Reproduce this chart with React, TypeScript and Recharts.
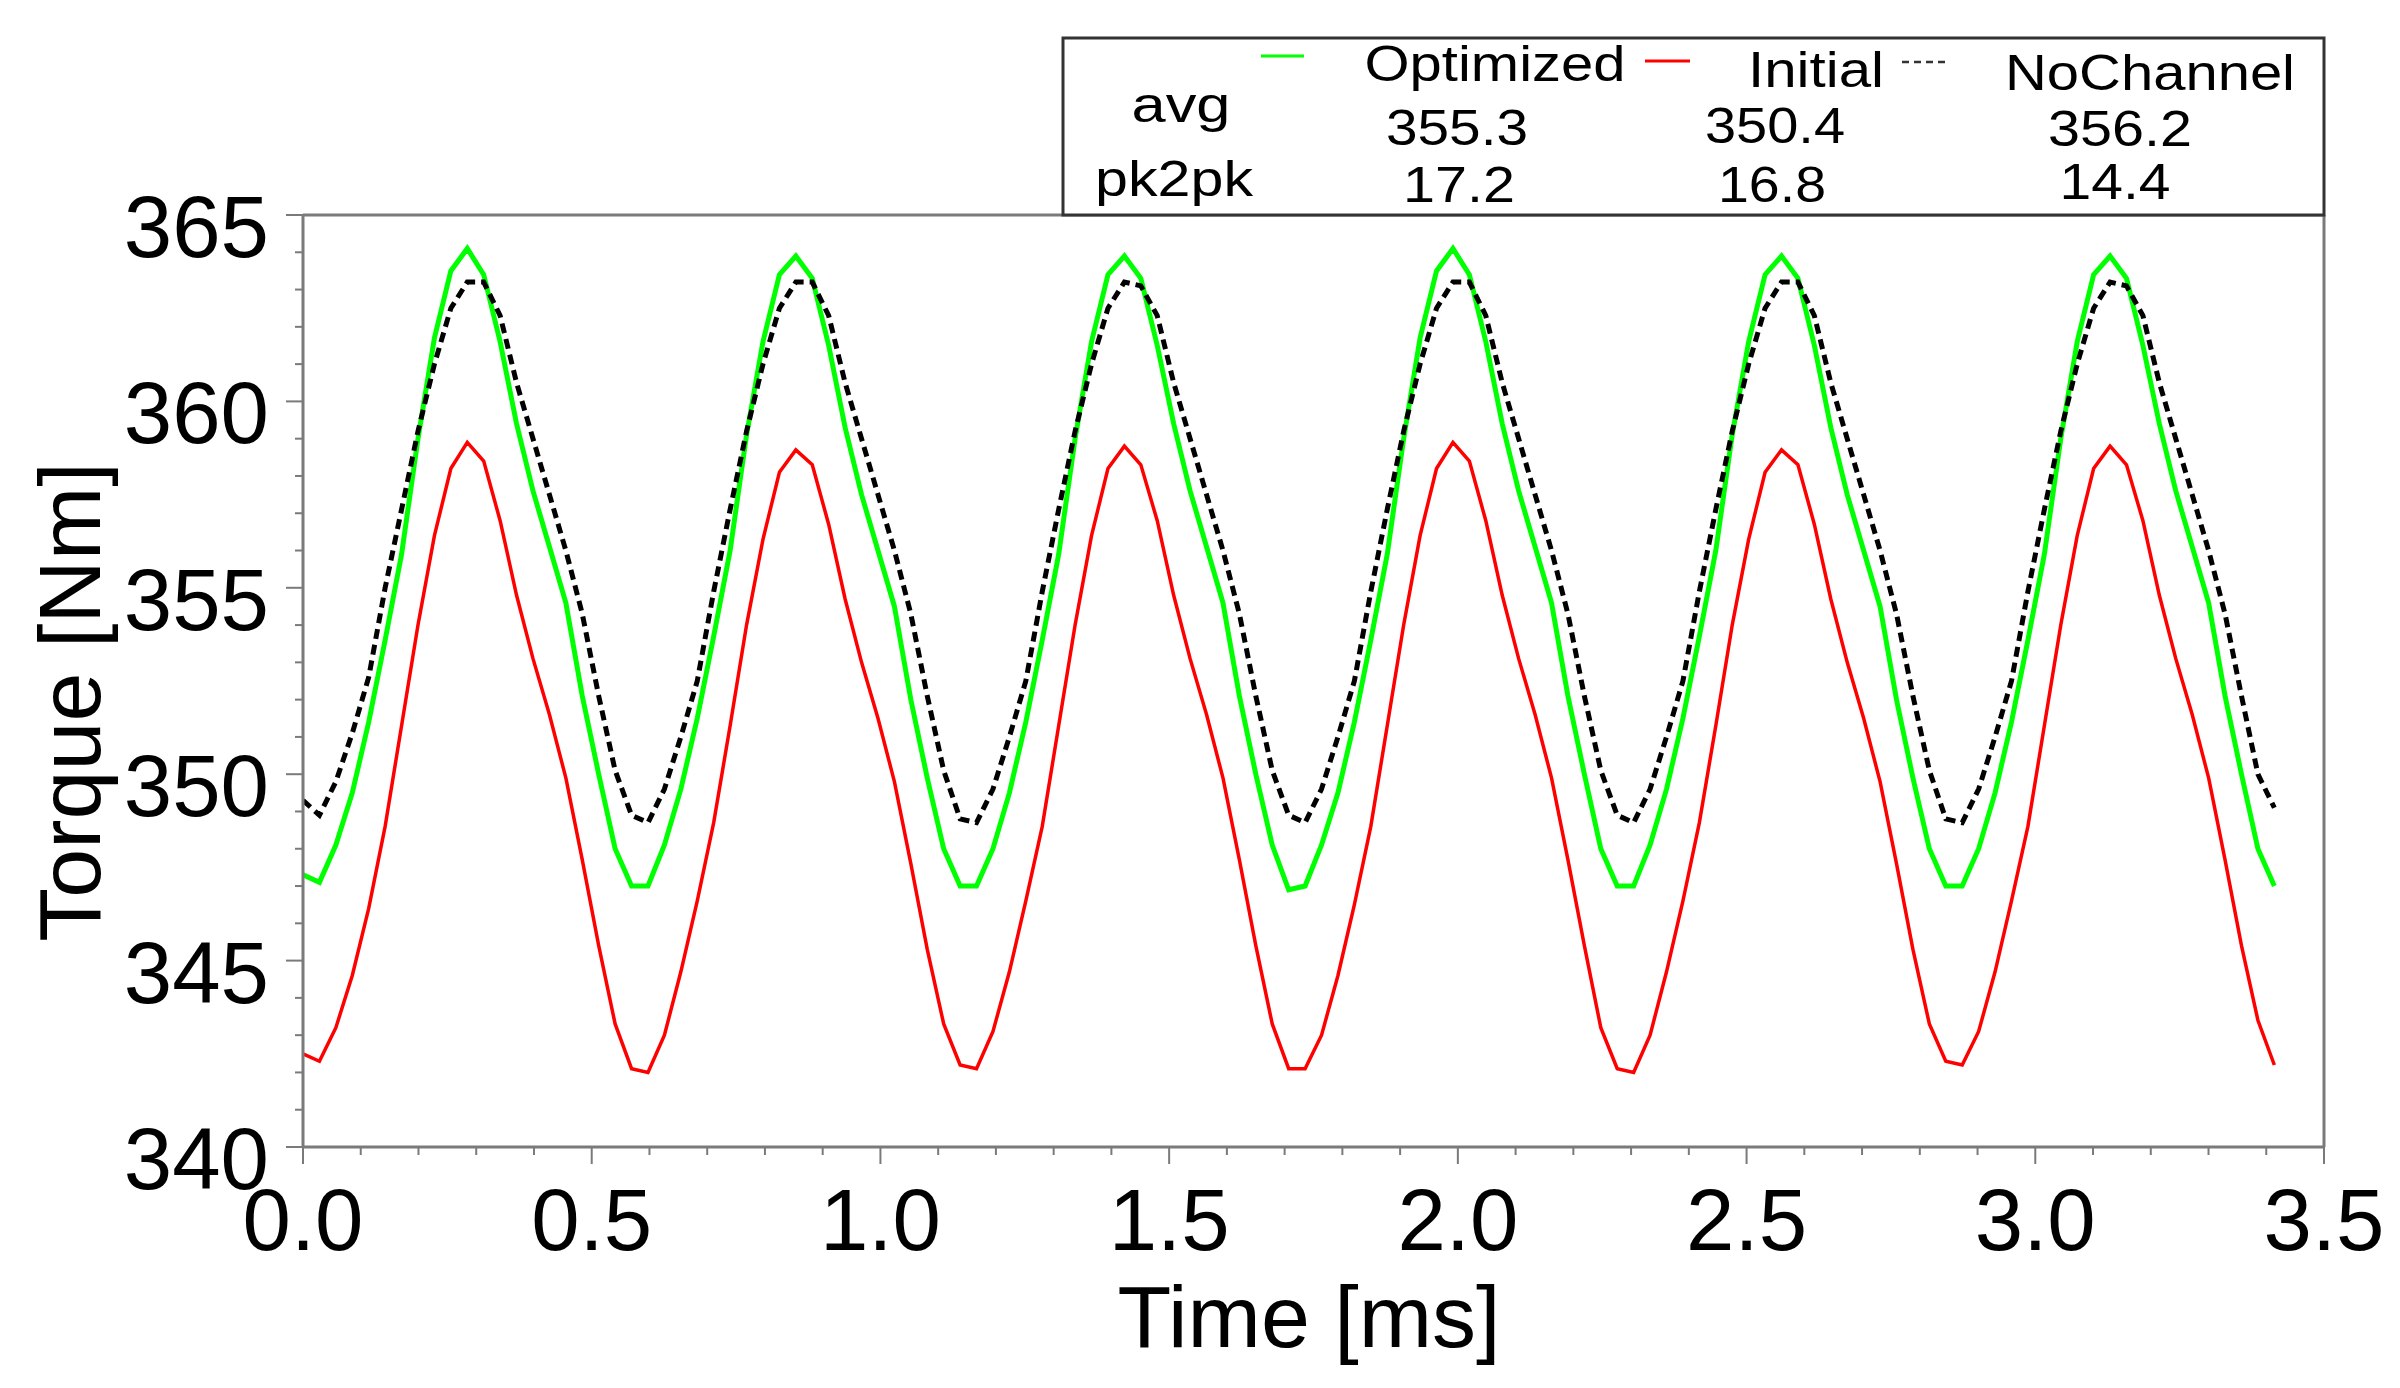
import { LineChart, Line, XAxis, YAxis, ReferenceLine } from "recharts";

// sampling step of the exported torque curves [ms]
const TIME_STEP = 0.02845;

const OPTIMIZED = [
  347.3, 347.1, 348.1, 349.5, 351.4, 353.6, 355.9, 359.0, 361.7, 363.5, 364.1, 363.4, 361.6, 359.4, 357.6, 356.1, 354.6, 352.1, 350.0, 348.0,
  347.0, 347.0, 348.1, 349.6, 351.5, 353.7, 356.0, 359.1, 361.6, 363.4, 363.9, 363.3, 361.5, 359.3, 357.5, 356.0, 354.5, 352.0, 349.9, 348.0,
  347.0, 347.0, 348.0, 349.5, 351.4, 353.6, 355.9, 359.0, 361.6, 363.4, 363.9, 363.3, 361.5, 359.4, 357.6, 356.1, 354.6, 352.1, 350.0, 348.1,
  346.9, 347.0, 348.1, 349.5, 351.4, 353.6, 355.9, 359.0, 361.7, 363.5, 364.1, 363.4, 361.6, 359.4, 357.6, 356.1, 354.6, 352.1, 350.0, 348.0,
  347.0, 347.0, 348.1, 349.6, 351.5, 353.7, 356.0, 359.1, 361.6, 363.4, 363.9, 363.3, 361.5, 359.3, 357.5, 356.0, 354.5, 352.0, 349.9, 348.0,
  347.0, 347.0, 348.0, 349.5, 351.4, 353.6, 355.9, 359.0, 361.6, 363.4, 363.9, 363.3, 361.5, 359.4, 357.6, 356.1, 354.6, 352.1, 350.0, 348.0,
  347.0,
];

const INITIAL = [
  342.5, 342.3, 343.2, 344.6, 346.4, 348.6, 351.3, 354.0, 356.4, 358.2, 358.9, 358.4, 356.8, 354.8, 353.1, 351.6, 349.9, 347.7, 345.4, 343.3,
  342.1, 342.0, 343.0, 344.7, 346.6, 348.7, 351.3, 354.0, 356.3, 358.1, 358.7, 358.3, 356.7, 354.7, 353.0, 351.5, 349.8, 347.6, 345.3, 343.3,
  342.2, 342.1, 343.1, 344.7, 346.6, 348.6, 351.3, 354.0, 356.4, 358.2, 358.8, 358.3, 356.8, 354.8, 353.1, 351.6, 349.9, 347.7, 345.4, 343.3,
  342.1, 342.1, 343.0, 344.6, 346.5, 348.6, 351.3, 354.0, 356.4, 358.2, 358.9, 358.4, 356.8, 354.8, 353.1, 351.6, 349.9, 347.7, 345.4, 343.2,
  342.1, 342.0, 343.0, 344.7, 346.6, 348.7, 351.3, 354.0, 356.3, 358.1, 358.7, 358.3, 356.7, 354.7, 353.0, 351.5, 349.8, 347.6, 345.3, 343.3,
  342.3, 342.2, 343.1, 344.7, 346.6, 348.6, 351.3, 354.0, 356.4, 358.2, 358.8, 358.3, 356.8, 354.8, 353.1, 351.6, 349.9, 347.7, 345.4, 343.4,
  342.2,
];

const NO_CHANNEL = [
  349.3, 348.9, 349.8, 351.1, 352.6, 355.0, 357.1, 359.2, 361.0, 362.5, 363.2, 363.2, 362.3, 360.5, 359.0, 357.5, 356.0, 354.3, 352.1, 350.1,
  348.9, 348.7, 349.6, 351.0, 352.5, 354.9, 357.1, 359.2, 361.0, 362.5, 363.2, 363.2, 362.3, 360.5, 359.0, 357.5, 356.0, 354.3, 352.1, 350.1,
  348.8, 348.7, 349.6, 351.0, 352.5, 354.9, 357.1, 359.2, 361.0, 362.5, 363.2, 363.1, 362.3, 360.5, 359.0, 357.5, 356.0, 354.3, 352.1, 350.1,
  348.9, 348.7, 349.6, 351.0, 352.5, 354.9, 357.1, 359.2, 361.0, 362.5, 363.2, 363.2, 362.3, 360.5, 359.0, 357.5, 356.0, 354.3, 352.1, 350.1,
  348.9, 348.7, 349.6, 351.0, 352.5, 354.9, 357.1, 359.2, 361.0, 362.5, 363.2, 363.2, 362.3, 360.5, 359.0, 357.5, 356.0, 354.3, 352.1, 350.1,
  348.8, 348.7, 349.6, 351.0, 352.5, 354.9, 357.1, 359.2, 361.0, 362.5, 363.2, 363.1, 362.3, 360.5, 359.0, 357.5, 356.0, 354.3, 352.1, 350.0,
  349.1,
];

const X_TICKS = [
  0, 0.1, 0.2, 0.3, 0.4, 0.5, 0.6, 0.7, 0.8, 0.9, 1.0, 1.1, 1.2, 1.3, 1.4, 1.5, 1.6, 1.7,
  1.8, 1.9, 2.0, 2.1, 2.2, 2.3, 2.4, 2.5, 2.6, 2.7, 2.8, 2.9, 3.0, 3.1, 3.2, 3.3, 3.4, 3.5,
];
const X_LABELS = ["0.0", "0.5", "1.0", "1.5", "2.0", "2.5", "3.0", "3.5"];

const Y_TICKS = [
  340, 341, 342, 343, 344, 345, 346, 347, 348, 349, 350, 351, 352,
  353, 354, 355, 356, 357, 358, 359, 360, 361, 362, 363, 364, 365,
];
const Y_LABELS = ["340", "345", "350", "355", "360", "365"];

const SERIES_NAMES = ["Optimized", "Initial", "NoChannel"];
const AVG = ["355.3", "350.4", "356.2"];
const PK2PK = ["17.2", "16.8", "14.4"];

const FONT = "'Liberation Sans', Arial, sans-serif";
const AXIS_GRAY = "#7a7a7a";

const chartData = OPTIMIZED.map((v, i) => ({
  t: i * TIME_STEP,
  optimized: v,
  initial: INITIAL[i],
  noChannel: NO_CHANNEL[i],
}));

function XTick(props: any) {
  const { x, y, payload } = props;
  const label = Number(payload.value).toFixed(1);
  const major = X_LABELS.includes(label);
  return (
    <g>
      <line x1={x} x2={x} y1={y} y2={y + (major ? 17 : 8)} stroke={AXIS_GRAY} strokeWidth={2} />
      {major && (
        <text x={x} y={y + 103} textAnchor="middle" fontSize={87} fontFamily={FONT} fill="#000">
          {label}
        </text>
      )}
    </g>
  );
}

function YTick(props: any) {
  const { x, y, payload } = props;
  const label = String(payload.value);
  const major = Y_LABELS.includes(label);
  return (
    <g>
      <line x1={x - (major ? 17 : 8)} x2={x} y1={y} y2={y} stroke={AXIS_GRAY} strokeWidth={2} />
      {major && (
        <text x={x - 34} y={y + 42} textAnchor="end" fontSize={87} fontFamily={FONT} fill="#000">
          {label}
        </text>
      )}
    </g>
  );
}

// one cell of the stats legend, stretched to the width it has in the original
function Cell({ x, y, w, children }: { x: number; y: number; w: number; children: string }) {
  return (
    <text
      x={x}
      y={y}
      textAnchor="middle"
      fontSize={50}
      fontFamily={FONT}
      fill="#000"
      textLength={w}
      lengthAdjust="spacingAndGlyphs"
    >
      {children}
    </text>
  );
}

function LegendTable() {
  return (
    <svg
      width={2400}
      height={1388}
      style={{ position: "absolute", left: 0, top: 0, pointerEvents: "none" }}
    >
      <rect x={1063} y={38} width={1261} height={177} fill="#fff" stroke="#333" strokeWidth={3} />
      <line x1={1261} x2={1304} y1={56} y2={56} stroke="#00ff00" strokeWidth={3} />
      <line x1={1645} x2={1690} y1={61} y2={61} stroke="#ff0000" strokeWidth={3} />
      <line x1={1902} x2={1947} y1={62} y2={62} stroke="#333" strokeWidth={2.5} strokeDasharray="7 5" />
      <Cell x={1495} y={81} w={261}>{SERIES_NAMES[0]}</Cell>
      <Cell x={1816} y={87} w={136}>{SERIES_NAMES[1]}</Cell>
      <Cell x={2150} y={90} w={290}>{SERIES_NAMES[2]}</Cell>
      <Cell x={1181} y={122} w={99}>avg</Cell>
      <Cell x={1457} y={145} w={142}>{AVG[0]}</Cell>
      <Cell x={1775} y={143} w={140}>{AVG[1]}</Cell>
      <Cell x={2120} y={146} w={144}>{AVG[2]}</Cell>
      <Cell x={1174} y={196} w={158}>pk2pk</Cell>
      <Cell x={1459} y={202} w={112}>{PK2PK[0]}</Cell>
      <Cell x={1772} y={202} w={108}>{PK2PK[1]}</Cell>
      <Cell x={2115} y={199} w={111}>{PK2PK[2]}</Cell>

      {/* axis titles */}
      <text x={1309} y={1347} textAnchor="middle" fontSize={88} fontFamily={FONT} fill="#000">
        Time [ms]
      </text>
      <text
        x={100}
        y={702}
        textAnchor="middle"
        fontSize={88}
        fontFamily={FONT}
        fill="#000"
        transform="rotate(-90, 100, 702)"
      >
        Torque [Nm]
      </text>
    </svg>
  );
}

export default function App() {
  return (
    <div style={{ position: "absolute", left: 0, top: 0, width: 2400, height: 1388, background: "#fff" }}>
      <LineChart
        width={2400}
        height={1388}
        data={chartData}
        margin={{ top: 215, right: 76, bottom: 0, left: 0 }}
      >
        <XAxis
          type="number"
          dataKey="t"
          domain={[0, 3.5]}
          ticks={X_TICKS}
          interval={0}
          height={241}
          tickSize={0}
          tickMargin={0}
          tickLine={false}
          axisLine={{ stroke: AXIS_GRAY, strokeWidth: 3 }}
          tick={<XTick />}
          allowDataOverflow
        />
        <YAxis
          type="number"
          domain={[340, 365]}
          ticks={Y_TICKS}
          interval={0}
          width={303}
          tickSize={0}
          tickMargin={0}
          tickLine={false}
          axisLine={{ stroke: AXIS_GRAY, strokeWidth: 3 }}
          tick={<YTick />}
          allowDataOverflow
        />
        <ReferenceLine y={365} stroke={AXIS_GRAY} strokeWidth={3} />
        <ReferenceLine x={3.5} stroke={AXIS_GRAY} strokeWidth={3} />

        <Line
          type="linear"
          dataKey="initial"
          stroke="#ff0000"
          strokeWidth={3.5}
          dot={false}
          isAnimationActive={false}
        />
        <Line
          type="linear"
          dataKey="optimized"
          stroke="#00ff00"
          strokeWidth={5}
          dot={false}
          isAnimationActive={false}
        />
        <Line
          type="linear"
          dataKey="noChannel"
          stroke="#000000"
          strokeWidth={5}
          strokeDasharray="10 6"
          dot={false}
          isAnimationActive={false}
        />
      </LineChart>
      <LegendTable />
    </div>
  );
}
